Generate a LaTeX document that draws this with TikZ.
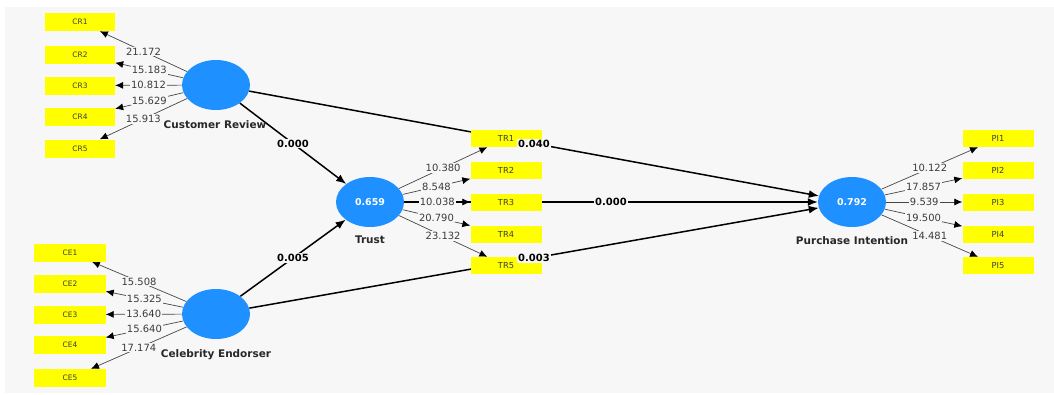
\documentclass[tikz,border=0pt]{standalone}
\usepackage{fontspec}
\setmainfont{DejaVu Sans}
\usetikzlibrary{shapes.geometric,arrows.meta}
\pgfdeclarelayer{back}
\pgfdeclarelayer{edges}
\pgfdeclarelayer{labels}
\pgfsetlayers{back,edges,main,labels}
\definecolor{bgc}{RGB}{247,247,247}
\definecolor{lvblue}{RGB}{30,144,255}
\definecolor{ybox}{RGB}{255,255,0}
\definecolor{ltxt}{RGB}{60,60,60}
\definecolor{lline}{RGB}{70,70,70}
\definecolor{ntxt}{RGB}{40,40,40}
\begin{document}
\begin{tikzpicture}[x=1bp,y=-1bp,
 lv/.style={ellipse,fill=lvblue,minimum width=68bp,minimum height=50bp,inner sep=0pt,text=white,font=\bfseries\fontsize{9.5}{11}\selectfont},
 ind/.style={rectangle,fill=ybox,minimum width=71bp,minimum height=17bp,inner sep=0pt,text=ltxt,font=\fontsize{8.3}{10}\selectfont},
 lvname/.style={font=\bfseries\fontsize{10.5}{12}\selectfont,text=ntxt},
 load/.style={draw=lline,line width=0.7bp,-{Latex[length=8bp,width=7bp,color=black]}},
 spath/.style={draw=black,line width=1.5bp,-{Latex[length=10bp,width=8bp]}},
 lbl/.style={fill=bgc,inner sep=1bp,text=ltxt,font=\fontsize{10}{12}\selectfont},
 coef/.style={fill=bgc,inner sep=1bp,text=black,font=\bfseries\fontsize{10}{12}\selectfont}]
\useasboundingbox (0,0) rectangle (1054,394);
\begin{pgfonlayer}{back}
\fill[bgc] (5,7) rectangle (1054,393);
\end{pgfonlayer}

% latent variables
\node[lv] (CR) at (216,85) {};
\node[lv] (CE) at (216,314) {};
\node[lv] (TRU) at (370,202) {0.659};
\node[lv] (PIN) at (852,202) {0.792};
\node[lvname] (nCR) at (215,125) {Customer Review};
\node[lvname] (nCE) at (216,355) {Celebrity Endorser};
\node[lvname] (nTR) at (370,240) {Trust};
\node[lvname] (nPI) at (852,241) {Purchase Intention};

% indicators
\foreach \i/\y in {1/22,2/55,3/85.5,4/117,5/148.5}
  \node[ind,minimum width=70bp,minimum height=18bp,font=\fontsize{7.5}{9}\selectfont] (CR\i) at (80,\y) {CR\i};
\foreach \i/\y in {1/252.5,2/284,3/314.5,4/345,5/378}
  \node[ind,minimum height=18bp,font=\fontsize{7.5}{9}\selectfont] (CE\i) at (70,\y) {CE\i};
\foreach \i/\y in {1/138.5,2/170.5,3/202,4/234,5/265.5}{
  \node[ind] (TR\i) at (506,\y) {TR\i};
  \node[ind] (PI\i) at (998,\y) {PI\i};
}

% edges
\begin{pgfonlayer}{edges}
\foreach \i in {1,...,5}{
  \draw[load] (CR) -- (CR\i);
  \draw[load] (CE) -- (CE\i);
  \draw[load] (TRU) -- (TR\i);
  \draw[load] (PIN) -- (PI\i);
}
\draw[spath] (CR) -- (TRU);
\draw[spath] (CE) -- (TRU);
\draw[spath] (CR) -- (PIN);
\draw[spath] (TRU) -- (PIN);
\draw[spath] (CE) -- (PIN);
\end{pgfonlayer}

% labels
\begin{pgfonlayer}{labels}
\foreach \i/\v in {1/21.172,2/15.183,3/10.812,4/15.629,5/15.913}
  \path (CR) -- (CR\i) node[midway,lbl] {\v};
\foreach \i/\v in {1/15.508,2/15.325,3/13.640,4/15.640,5/17.174}
  \path (CE) -- (CE\i) node[midway,lbl] {\v};
\foreach \i/\v in {1/10.380,2/8.548,3/10.038,4/20.790,5/23.132}
  \path (TRU) -- (TR\i) node[midway,lbl] {\v};
\foreach \i/\v in {1/10.122,2/17.857,3/9.539,4/19.500,5/14.481}
  \path (PIN) -- (PI\i) node[midway,lbl] {\v};
\path (CR) -- (TRU) node[midway,coef] {0.000};
\path (CE) -- (TRU) node[midway,coef] {0.005};
\path (CR) -- (PIN) node[midway,coef] {0.040};
\path (TRU) -- (PIN) node[midway,coef] {0.000};
\path (CE) -- (PIN) node[midway,coef] {0.003};
\end{pgfonlayer}
\end{tikzpicture}
\end{document}
